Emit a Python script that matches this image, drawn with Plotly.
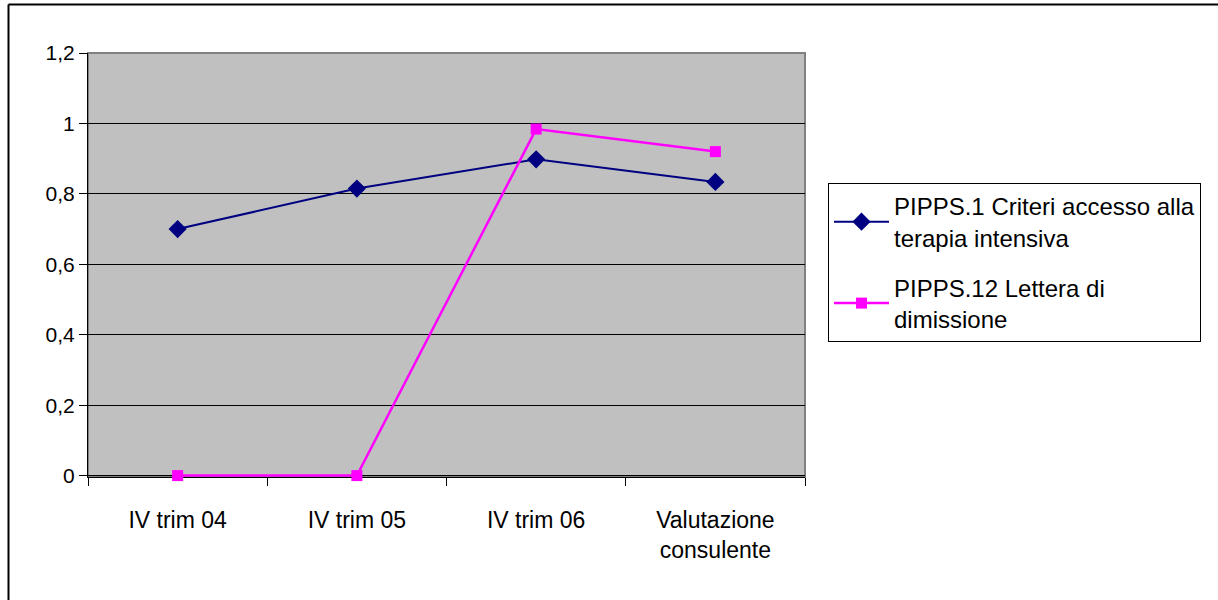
import plotly.graph_objects as go

categories = ["IV trim 04", "IV trim 05", "IV trim 06", "Valutazione<br>consulente"]
series1_name = "PIPPS.1 Criteri accesso alla<br>terapia intensiva"
series1_values = [0.70, 0.815, 0.898, 0.834]
series2_name = "PIPPS.12 Lettera di<br>dimissione"
series2_values = [0.0, 0.0, 0.984, 0.92]
y_ticks = [0, 0.2, 0.4, 0.6, 0.8, 1.0, 1.2]

W, H = 1218, 600
L, T, R, B = 88, 53, 805, 477
pw, ph = R - L, B - T

def px2x(x):
    return (x - L) / pw

def px2y(y):
    return (B - y) / ph

FONT = "Liberation Sans, Arial, sans-serif"

fig = go.Figure()
fig.add_trace(go.Scatter(
    x=categories, y=series1_values, name=series1_name, mode="lines+markers",
    line=dict(color="#000080", width=2),
    marker=dict(symbol="diamond", size=14, color="#000080"),
    cliponaxis=False, legendgroup="a",
))
fig.add_trace(go.Scatter(
    x=categories, y=series2_values, name=series2_name, mode="lines+markers",
    line=dict(color="#FF00FF", width=2.5),
    marker=dict(symbol="square", size=11, color="#FF00FF"),
    cliponaxis=False, legendgroup="b",
))

shapes = [
    dict(type="rect", xref="paper", yref="paper", x0=0, y0=0, x1=1, y1=1,
         line=dict(color="#808080", width=2), layer="below"),
    dict(type="line", xref="paper", yref="paper", x0=px2x(8.5), y0=px2y(4.5),
         x1=px2x(8.5), y1=px2y(H + 5), line=dict(color="#000000", width=2)),
    dict(type="line", xref="paper", yref="paper", x0=px2x(8.5), y0=px2y(4.5),
         x1=px2x(W + 5), y1=px2y(4.5), line=dict(color="#000000", width=2)),
]

fig.update_layout(
    width=W, height=H,
    margin=dict(l=L, r=W - R, t=T, b=H - B, pad=0),
    paper_bgcolor="white",
    plot_bgcolor="#C0C0C0",
    separators=", ",
    font=dict(family=FONT, size=20, color="black"),
    showlegend=True,
    legend=dict(
        x=px2x(828), y=px2y(183), xanchor="left", yanchor="top",
        bordercolor="black", borderwidth=1, bgcolor="white",
        font=dict(family=FONT, size=24, color="black"),
        itemwidth=55,
        traceorder="grouped",
        tracegroupgap=16,
    ),
    shapes=shapes,
)
fig.update_xaxes(
    type="category", range=[-0.5, 3.5],
    showline=True, linecolor="black", linewidth=1,
    ticks="outside", ticklen=8, tickcolor="black", tickson="boundaries",
    showgrid=False, ticklabelstandoff=22, layer="below traces",
    tickfont=dict(family=FONT, size=23),
)
fig.update_yaxes(
    range=[-0.004, 1.2], tickvals=y_ticks,
    showline=True, linecolor="black", linewidth=1,
    ticks="outside", ticklen=8, tickcolor="black",
    showgrid=True, gridcolor="#000000", gridwidth=1,
    zeroline=False, layer="below traces",
    tickfont=dict(family=FONT, size=21),
)

fig.write_html("out.html", config={"displayModeBar": False},
               post_script="document.body.style.margin='0';")
